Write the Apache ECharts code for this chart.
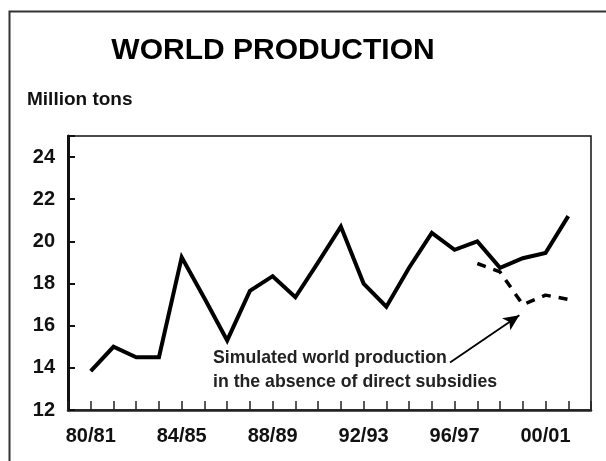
<!DOCTYPE html>
<html>
<head>
<meta charset="utf-8">
<script src="https://cdn.jsdelivr.net/npm/echarts@6/dist/echarts.min.js"></script>
<style>
html,body{margin:0;padding:0;background:#fff;}
#chart{width:606px;height:461px;}
</style>
</head>
<body>
<div id="chart"></div>
<script>
const categories = ['80/81','81/82','82/83','83/84','84/85','85/86','86/87','87/88','88/89','89/90','90/91',
                    '91/92','92/93','93/94','94/95','95/96','96/97','97/98','98/99','99/00','00/01','01/02'];
const production = [13.85, 15.0, 14.5, 14.5, 19.25, 17.3, 15.3, 17.65, 18.35, 17.35, 19.0,
                    20.7, 18.0, 16.9, 18.75, 20.4, 19.6, 20.0, 18.75, 19.2, 19.45, 21.2];
// simulated production without direct subsidies (null = not shown)
const simulated = [null, null, null, null, null, null, null, null, null, null, null,
                   null, null, null, null, null, null, 18.95, 18.55, 17.0, 17.45, 17.25];
const yTicks = [12, 14, 16, 18, 20, 22, 24];
const xLabelEvery = 4;
const titleText = 'WORLD PRODUCTION';
const unitText = 'Million tons';
const noteText = 'Simulated world production\nin the absence of direct subsidies';
// arrow annotation in data units: from end of note text to dashed line
const arrowFrom = [15.8, 14.25];
const arrowTo = [18.85, 16.5];

const FONT = "'Liberation Sans', Arial, sans-serif";
const chart = echarts.init(document.getElementById('chart'), null, {renderer: 'canvas'});

const prodData = production.map((v, i) => [i, v]);
const simData = simulated.map((v, i) => [i, v]).filter(p => p[1] !== null);

chart.setOption({
  backgroundColor: '#fff',
  animation: false,
  grid: {left: 68, right: 15, top: 136, bottom: 51, show: true, borderColor: '#111', borderWidth: 1.5, backgroundColor: 'transparent'},
  xAxis: {
    type: 'value', min: -1, max: categories.length, interval: 1,
    axisLine: {show: true, onZero: false, lineStyle: {color: '#222', width: 2.5}},
    axisTick: {show: true, inside: true, length: 9, lineStyle: {color: '#222', width: 1.5}},
    splitLine: {show: false},
    axisLabel: {
      show: true, margin: 16, color: '#111', fontSize: 20, fontWeight: 'bold', fontFamily: FONT,
      showMinLabel: true, showMaxLabel: true, hideOverlap: false,
      formatter: v => (v >= 0 && v < categories.length && v % xLabelEvery === 0) ? categories[v] : ''
    }
  },
  yAxis: {
    type: 'value', min: 12, max: 25, interval: 2,
    axisLine: {show: true, onZero: false, lineStyle: {color: '#111', width: 3}},
    axisTick: {show: true, inside: true, length: 7, lineStyle: {color: '#111', width: 2}},
    splitLine: {show: false},
    axisLabel: {
      margin: 13, color: '#111', fontSize: 20, fontWeight: 'bold', fontFamily: FONT,
      formatter: v => yTicks.indexOf(v) >= 0 ? String(v) : ''
    }
  },
  series: [
    {
      name: 'World production', type: 'line', data: prodData, showSymbol: false, symbol: 'none',
      lineStyle: {color: '#000', width: 4, join: 'miter'}, z: 3
    },
    {
      name: 'Simulated', type: 'line', data: simData, showSymbol: false, symbol: 'none',
      lineStyle: {color: '#000', width: 3.5, type: [9, 8]}, z: 2,
      markLine: {
        silent: true, symbol: ['none', 'arrow'], symbolSize: [11, 16], label: {show: false},
        lineStyle: {color: '#000', width: 1.8, type: 'solid'},
        data: [[{coord: arrowFrom}, {coord: arrowTo}]]
      }
    }
  ],
  graphic: [
    {type: 'rect', shape: {x: 9.5, y: 11.5, width: 800, height: 800},
     style: {fill: 'none', stroke: '#333', lineWidth: 2}, z: -1},
    {type: 'text', x: 273, y: 51, style: {text: titleText, fill: '#000', font: 'bold 30px ' + FONT,
      textAlign: 'center', textVerticalAlign: 'middle'}},
    {type: 'text', x: 27, y: 100, style: {text: unitText, fill: '#111', font: 'bold 19px ' + FONT,
      textAlign: 'left', textVerticalAlign: 'middle'}},
    {type: 'text', x: 213, y: 346, style: {text: noteText, fill: '#222', font: 'bold 17.7px ' + FONT,
      lineHeight: 24, textAlign: 'left', textVerticalAlign: 'top'}}
  ]
});
</script>
</body>
</html>
